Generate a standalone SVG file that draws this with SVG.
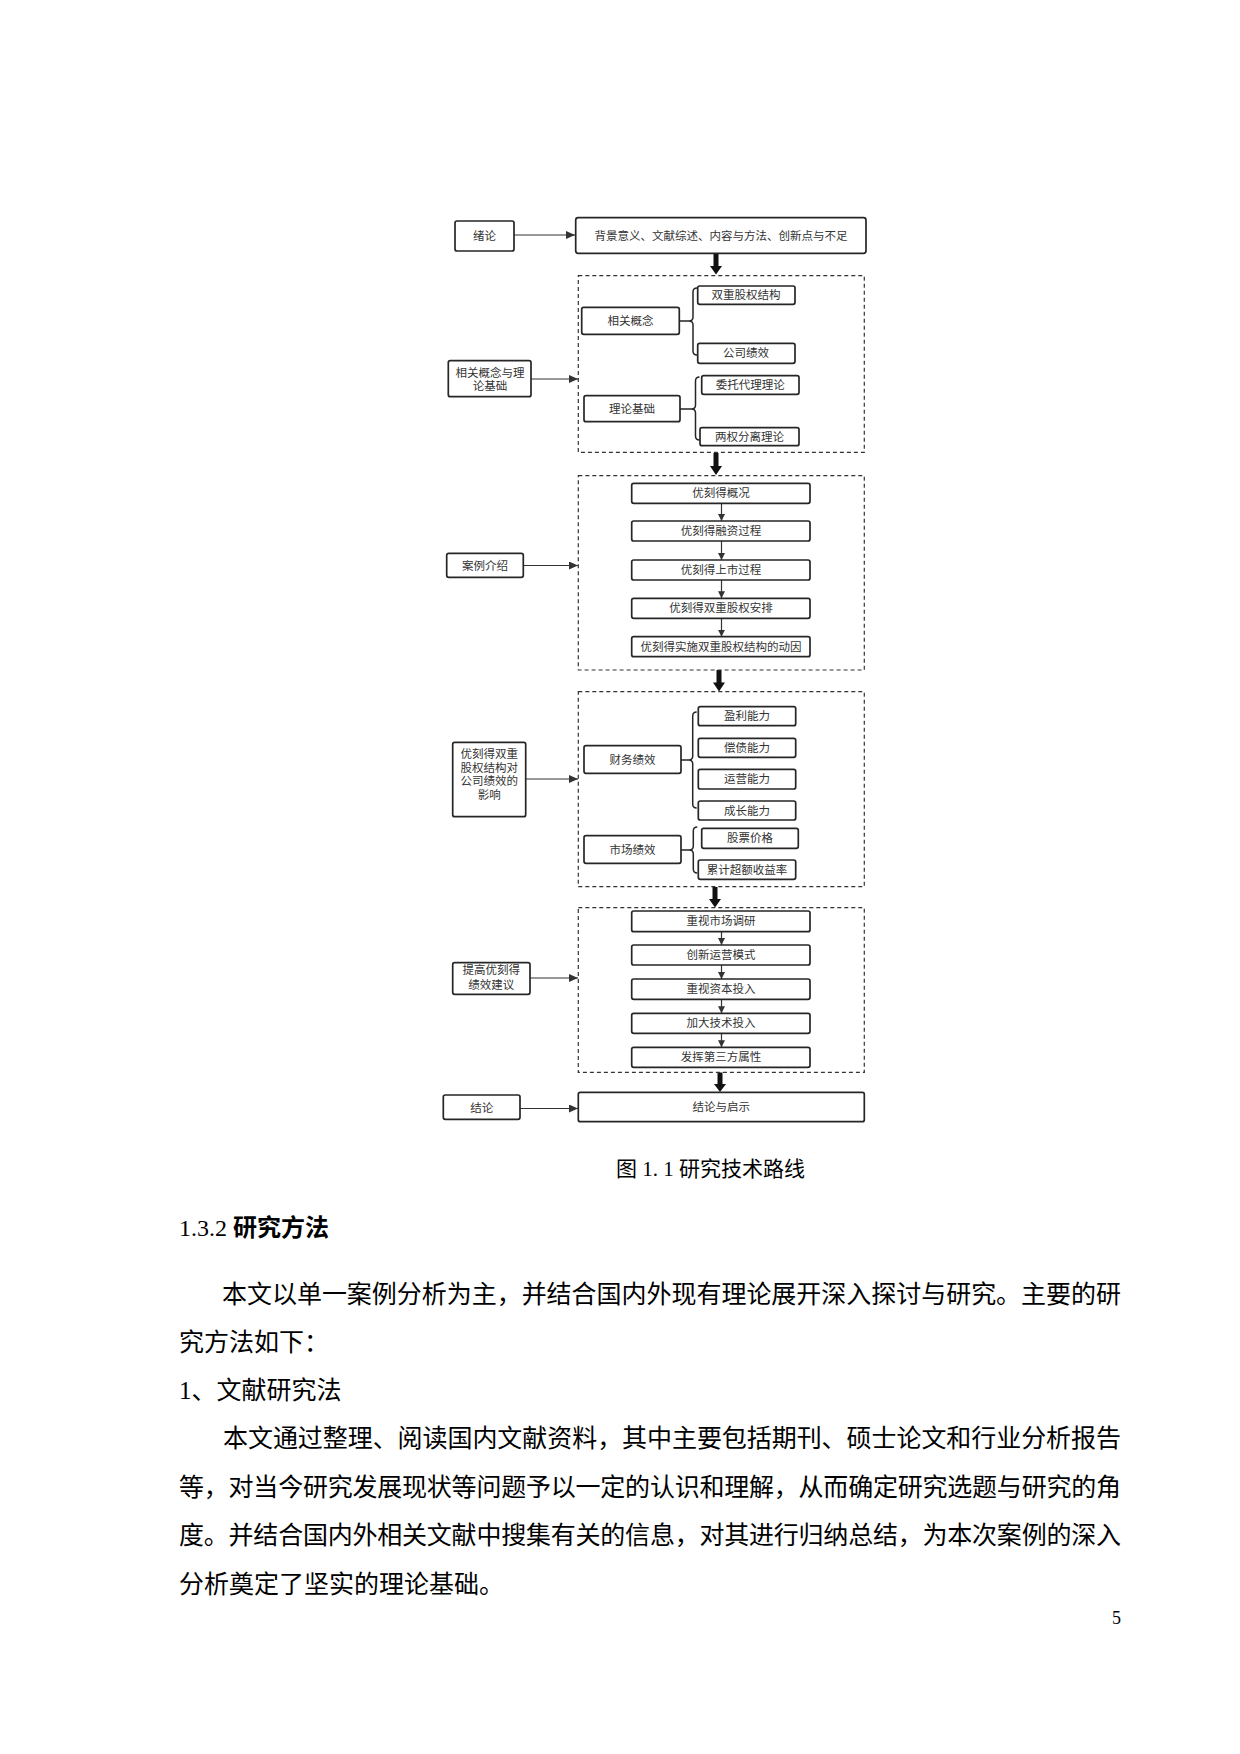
<svg xmlns="http://www.w3.org/2000/svg" width="1240" height="1754" viewBox="0 0 1240 1754">
<style>
.bx{fill:#fff;stroke:#262626;stroke-width:1.7}
.dash{fill:none;stroke:#333;stroke-width:1.2;stroke-dasharray:4 3}
.t{font-family:"Noto Sans CJK SC",sans-serif;font-size:11.5px;fill:#333;text-anchor:middle}
.ln{fill:none;stroke:#333;stroke-width:1.2}
.br{fill:none;stroke:#262626;stroke-width:1.5}
.big{fill:#111}
.body{font-family:"Liberation Serif","Noto Sans CJK SC",serif;font-size:25px;fill:#000}
</style>
<defs>
<marker id="ah" markerUnits="userSpaceOnUse" markerWidth="10" markerHeight="8" refX="9" refY="4" orient="auto">
<path d="M0,0 L9,4 L0,8 Z" fill="#333"/>
</marker>
<marker id="sh" markerUnits="userSpaceOnUse" markerWidth="8" markerHeight="8" refX="7" refY="3.5" orient="auto">
<path d="M0,0 L7,3.5 L0,7 Z" fill="#333"/>
</marker>
</defs>
<rect width="1240" height="1754" fill="#fff"/>

<g id="connectors">
<line class="ln" x1="514" y1="235" x2="575" y2="235" marker-end="url(#ah)"/>
<line class="ln" x1="531" y1="379" x2="578" y2="379" marker-end="url(#ah)"/>
<line class="ln" x1="523" y1="565.5" x2="578" y2="565.5" marker-end="url(#ah)"/>
<line class="ln" x1="526" y1="779" x2="578" y2="779" marker-end="url(#ah)"/>
<line class="ln" x1="530" y1="978" x2="578" y2="978" marker-end="url(#ah)"/>
<line class="ln" x1="520" y1="1108.5" x2="578" y2="1108.5" marker-end="url(#ah)"/>
<path class="big" d="M713.5,254 H718.5 V266 H722 L716,274.5 L710,266 H713.5 Z"/>
<path class="big" d="M713.5,453 H718.5 V466 H722 L716,475 L710,466 H713.5 Z"/>
<path class="big" d="M716.5,670 H721.5 V682.5 H725 L719,691.5 L713,682.5 H716.5 Z"/>
<path class="big" d="M712.5,887 H717.5 V899 H721 L715,907.5 L709,899 H712.5 Z"/>
<path class="big" d="M717.5,1072.5 H722.5 V1084 H726 L720,1092 L714,1084 H717.5 Z"/>
<line class="ln" x1="721.5" y1="503.3" x2="721.5" y2="521" marker-end="url(#sh)"/>
<line class="ln" x1="721.5" y1="541" x2="721.5" y2="560" marker-end="url(#sh)"/>
<line class="ln" x1="721.5" y1="580" x2="721.5" y2="598.3" marker-end="url(#sh)"/>
<line class="ln" x1="721.5" y1="618.3" x2="721.5" y2="636.7" marker-end="url(#sh)"/>
<line class="ln" x1="721.5" y1="931.7" x2="721.5" y2="945" marker-end="url(#sh)"/>
<line class="ln" x1="721.5" y1="965" x2="721.5" y2="979" marker-end="url(#sh)"/>
<line class="ln" x1="721.5" y1="999.3" x2="721.5" y2="1013.3" marker-end="url(#sh)"/>
<line class="ln" x1="721.5" y1="1033.3" x2="721.5" y2="1047.3" marker-end="url(#sh)"/>
<path class="br" d="M679.3,321 H689 M697,288 Q693,288 693,292 V317 Q693,321 689,321 Q693,321 693,325 V351 Q693,355 697,355"/>
<path class="br" d="M680,409 H691.5 M699.5,377 Q695.5,377 695.5,381 V405 Q695.5,409 691.5,409 Q695.5,409 695.5,413 V436 Q695.5,440 699.5,440"/>
<path class="br" d="M681,760 H688.7 M696.7,712 Q692.7,712 692.7,716 V756 Q692.7,760 688.7,760 Q692.7,760 692.7,764 V804 Q692.7,808 696.7,808"/>
<path class="br" d="M681,850 H689.3 M697.3,827 Q693.3,827 693.3,831 V846 Q693.3,850 689.3,850 Q693.3,850 693.3,854 V869 Q693.3,873 697.3,873"/>
</g>

<g id="frames">
<rect class="dash" x="578.3" y="275.7" width="286" height="176.6"/>
<rect class="dash" x="578.3" y="475.7" width="286" height="194.3"/>
<rect class="dash" x="578.3" y="691.7" width="286" height="195"/>
<rect class="dash" x="578.3" y="907.7" width="286" height="164.6"/>
</g>

<g id="n-xulun"><rect class="bx" x="455" y="221" width="59" height="30" rx="2"/><text class="t" x="484.5" y="240">绪论</text></g>
<g id="n-top"><rect class="bx" x="575.7" y="217.7" width="290.3" height="35.6" rx="2.5"/><text class="t" x="721" y="239.5">背景意义、文献综述、内容与方法、创新点与不足</text></g>

<g id="n-left2"><rect class="bx" x="448.3" y="360.7" width="82.7" height="36" rx="2"/><text class="t" x="490" y="376.7">相关概念与理</text><text class="t" x="490" y="389.5">论基础</text></g>
<g id="n-xggn"><rect class="bx" x="581.7" y="307.3" width="97.6" height="27" rx="2"/><text class="t" x="630.5" y="325">相关概念</text></g>
<g id="n-scgq"><rect class="bx" x="697.7" y="286" width="97.3" height="18.3" rx="2"/><text class="t" x="746" y="299">双重股权结构</text></g>
<g id="n-gsjx"><rect class="bx" x="697.7" y="343.3" width="97.3" height="20" rx="2"/><text class="t" x="746" y="357.3">公司绩效</text></g>
<g id="n-lljc"><rect class="bx" x="584" y="395.7" width="96" height="26" rx="2"/><text class="t" x="632" y="413">理论基础</text></g>
<g id="n-wtdl"><rect class="bx" x="701.7" y="375.7" width="97.3" height="18.6" rx="2"/><text class="t" x="750.3" y="389">委托代理理论</text></g>
<g id="n-lqfl"><rect class="bx" x="700" y="427.7" width="99" height="18" rx="2"/><text class="t" x="749.5" y="440.7">两权分离理论</text></g>

<g id="n-alj"><rect class="bx" x="446.7" y="553.3" width="76.6" height="24" rx="2"/><text class="t" x="485" y="569.5">案例介绍</text></g>
<g id="n-c1"><rect class="bx" x="631.7" y="483.3" width="178.3" height="20" rx="2"/><text class="t" x="721" y="497.3">优刻得概况</text></g>
<g id="n-c2"><rect class="bx" x="631.7" y="521" width="178.3" height="20" rx="2"/><text class="t" x="721" y="535">优刻得融资过程</text></g>
<g id="n-c3"><rect class="bx" x="631.7" y="560" width="178.3" height="20" rx="2"/><text class="t" x="721" y="574">优刻得上市过程</text></g>
<g id="n-c4"><rect class="bx" x="631.7" y="598.3" width="178.3" height="20" rx="2"/><text class="t" x="721" y="612.3">优刻得双重股权安排</text></g>
<g id="n-c5"><rect class="bx" x="631.7" y="636.7" width="178.3" height="20" rx="2"/><text class="t" x="721" y="650.7">优刻得实施双重股权结构的动因</text></g>

<g id="n-left4"><rect class="bx" x="452.7" y="742.3" width="73" height="74.4" rx="2"/><text class="t" x="489.2" y="758">优刻得双重</text><text class="t" x="489.2" y="771.7">股权结构对</text><text class="t" x="489.2" y="785">公司绩效的</text><text class="t" x="489.2" y="799">影响</text></g>
<g id="n-cwjx"><rect class="bx" x="584" y="745.7" width="97" height="27.6" rx="2"/><text class="t" x="632.5" y="763.5">财务绩效</text></g>
<g id="n-ylnl"><rect class="bx" x="698.3" y="706.7" width="97.4" height="19" rx="2"/><text class="t" x="747" y="720.2">盈利能力</text></g>
<g id="n-cznl"><rect class="bx" x="698.3" y="738.3" width="97.4" height="19" rx="2"/><text class="t" x="747" y="751.8">偿债能力</text></g>
<g id="n-yynl"><rect class="bx" x="698.3" y="769.3" width="97.4" height="19.7" rx="2"/><text class="t" x="747" y="783.2">运营能力</text></g>
<g id="n-cznl2"><rect class="bx" x="698.3" y="801" width="97.4" height="19" rx="2"/><text class="t" x="747" y="814.5">成长能力</text></g>
<g id="n-scjx"><rect class="bx" x="584" y="835.7" width="97" height="27.6" rx="2"/><text class="t" x="632.5" y="853.5">市场绩效</text></g>
<g id="n-gpjg"><rect class="bx" x="701.7" y="828.3" width="96.6" height="20" rx="2"/><text class="t" x="750" y="842.3">股票价格</text></g>
<g id="n-ljce"><rect class="bx" x="698.3" y="860" width="97.4" height="19.3" rx="2"/><text class="t" x="747" y="873.7">累计超额收益率</text></g>

<g id="n-left5"><rect class="bx" x="452.7" y="962.7" width="77.3" height="31.6" rx="2"/><text class="t" x="491.3" y="974">提高优刻得</text><text class="t" x="491.3" y="989">绩效建议</text></g>
<g id="n-s1"><rect class="bx" x="631.7" y="911" width="178.3" height="20.7" rx="2"/><text class="t" x="721" y="925.3">重视市场调研</text></g>
<g id="n-s2"><rect class="bx" x="631.7" y="945" width="178.3" height="20" rx="2"/><text class="t" x="721" y="959">创新运营模式</text></g>
<g id="n-s3"><rect class="bx" x="631.7" y="979" width="178.3" height="20.3" rx="2"/><text class="t" x="721" y="993.2">重视资本投入</text></g>
<g id="n-s4"><rect class="bx" x="631.7" y="1013.3" width="178.3" height="20" rx="2"/><text class="t" x="721" y="1027.3">加大技术投入</text></g>
<g id="n-s5"><rect class="bx" x="631.7" y="1047.3" width="178.3" height="20" rx="2"/><text class="t" x="721" y="1061.3">发挥第三方属性</text></g>

<g id="n-jl"><rect class="bx" x="443.3" y="1095" width="76.7" height="24.3" rx="2"/><text class="t" x="481.7" y="1111.5">结论</text></g>
<g id="n-jlqs"><rect class="bx" x="578.3" y="1092.3" width="286" height="29.4" rx="2"/><text class="t" x="721.3" y="1111">结论与启示</text></g>

<g id="page-text">
<text x="616" y="1175.5" style="font-family:'Liberation Serif','Noto Sans CJK SC',serif;font-size:21px;fill:#000">图 1. 1 研究技术路线</text>
<text x="179" y="1235.5" style="font-family:'Liberation Serif','Noto Sans CJK SC',serif;font-size:24px;fill:#000">1.3.2 <tspan style="font-family:'Noto Sans CJK SC',sans-serif;font-weight:bold">研究方法</tspan></text>
<text class="body" x="222" y="1302.5" textLength="899" lengthAdjust="spacing">本文以单一案例分析为主，并结合国内外现有理论展开深入探讨与研究。主要的研</text>
<text class="body" x="179" y="1351">究方法如下：</text>
<text class="body" x="179" y="1398.5">1、文献研究法</text>
<text class="body" x="223" y="1447" textLength="898" lengthAdjust="spacing">本文通过整理、阅读国内文献资料，其中主要包括期刊、硕士论文和行业分析报告</text>
<text class="body" x="179" y="1495.5" textLength="942" lengthAdjust="spacing">等，对当今研究发展现状等问题予以一定的认识和理解，从而确定研究选题与研究的角</text>
<text class="body" x="179" y="1544" textLength="942" lengthAdjust="spacing">度。并结合国内外相关文献中搜集有关的信息，对其进行归纳总结，为本次案例的深入</text>
<text class="body" x="179" y="1592.5">分析奠定了坚实的理论基础。</text>
<text x="1121" y="1624" style="font-family:'Liberation Serif',serif;font-size:18px;fill:#000;text-anchor:end">5</text>
</g>
</svg>
